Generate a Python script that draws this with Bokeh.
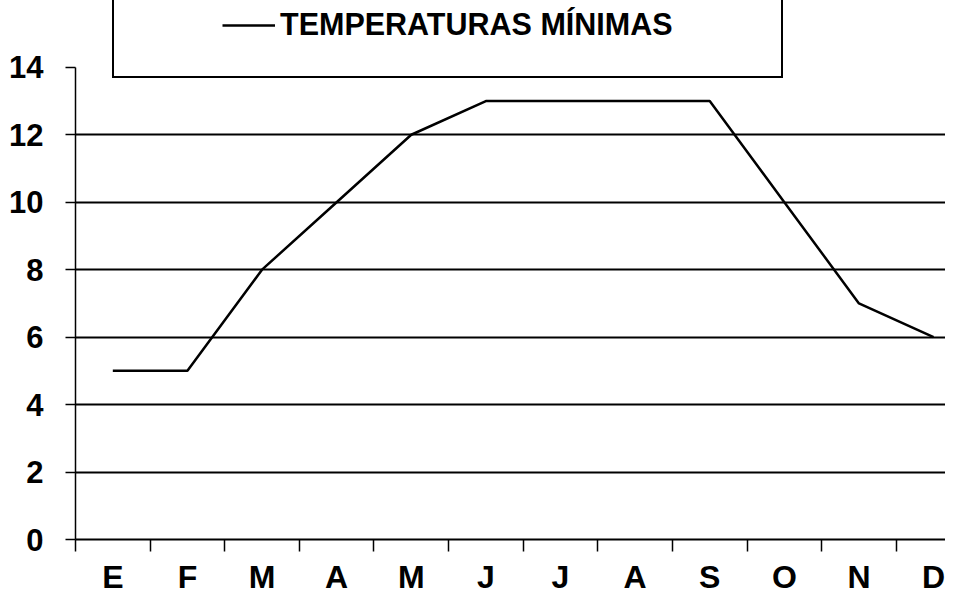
from bokeh.plotting import figure
from bokeh.models import Range1d, FixedTicker, Legend, LegendItem
from bokeh.embed import file_html
from bokeh.resources import INLINE

# ---- data ----
months = ["E", "F", "M", "A", "M", "J", "J", "A", "S", "O", "N", "D"]
temp_min = [5, 5, 8, 10, 12, 13, 13, 13, 13, 10, 7, 6]
y_ticks = [0, 2, 4, 6, 8, 10, 12, 14]
grid_values = [2, 4, 6, 8, 10, 12]
series_name = "TEMPERATURAS MÍNIMAS"

x_centers = [i + 0.5 for i in range(len(months))]
x_bounds = list(range(len(months) + 1))

FONT = "Liberation Sans"

W, H = 945, 597
p = figure(width=W, height=H, output_backend="svg", toolbar_location=None,
           x_range=Range1d(0, 11.66), y_range=Range1d(0, 15.98),
           min_border_left=75, min_border_right=0, min_border_top=0,
           min_border_bottom=56)
p.outline_line_color = None
p.background_fill_color = "white"
p.border_fill_color = "white"

# grid
p.xgrid.visible = False
p.ygrid.ticker = FixedTicker(ticks=grid_values)
p.ygrid.grid_line_color = "black"
p.ygrid.grid_line_width = 2

# y axis
ya = p.yaxis[0]
ya.ticker = FixedTicker(ticks=y_ticks)
ya.bounds = (0, 14)
ya.major_tick_out = 10
ya.major_tick_in = 0
ya.minor_tick_out = 0
ya.minor_tick_in = 0
ya.major_tick_line_color = "black"
ya.major_tick_line_width = 1.5
ya.axis_line_color = "black"
ya.axis_line_width = 1.5
ya.major_label_standoff = 22
ya.major_label_text_font = FONT
ya.major_label_text_font_style = "bold"
ya.major_label_text_font_size = "31px"
ya.major_label_text_color = "black"

# x axis
xa = p.xaxis[0]
xa.ticker = FixedTicker(ticks=x_centers, minor_ticks=x_bounds)
xa.major_label_overrides = {c: m for c, m in zip(x_centers, months)}
xa.major_tick_out = 0
xa.major_tick_in = 0
xa.minor_tick_out = 12
xa.minor_tick_in = 0
xa.minor_tick_line_color = "black"
xa.minor_tick_line_width = 1.5
xa.axis_line_color = "black"
xa.axis_line_width = 2
xa.major_label_standoff = 7
xa.major_label_text_font = FONT
xa.major_label_text_font_style = "bold"
xa.major_label_text_font_size = "32px"
xa.major_label_text_color = "black"

# series
dummy = p.line(x=[], y=[], line_alpha=0)
line = p.line(x_centers, temp_min, line_color="black", line_width=2.5)

legend = Legend(
    items=[LegendItem(label=" ", renderers=[dummy]),
           LegendItem(label=series_name, renderers=[line]),
           LegendItem(label=" ", renderers=[dummy])],
    orientation="horizontal", location=(37, 461), padding=34, spacing=1,
    glyph_width=53, label_standoff=5, label_width=15, margin=0,
    label_text_font=FONT, label_text_font_style="bold",
    label_text_font_size="30.5px", label_text_color="black",
    border_line_color="black", border_line_width=2, border_line_alpha=1,
    background_fill_color="white", background_fill_alpha=1,
)
p.add_layout(legend)

open("out.html", "w").write(file_html(p, INLINE))
